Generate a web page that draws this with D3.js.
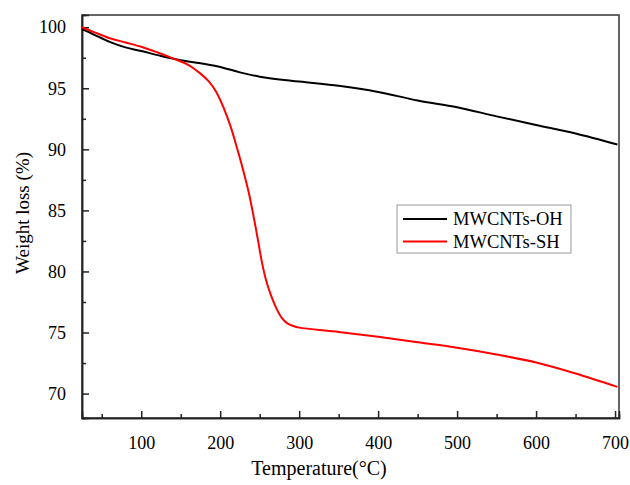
<!DOCTYPE html>
<html>
<head>
<meta charset="utf-8">
<script src="https://cdn.jsdelivr.net/npm/d3@7"></script>
<style>
body { margin: 0; background: #fff; }
text { font-family: "Liberation Serif", "Times New Roman", serif; fill: #000; }
</style>
</head>
<body>
<svg id="chart"></svg>
<script>
var seriesNames = ["MWCNTs-OH", "MWCNTs-SH"];
var seriesColors = ["#000000", "#ff0000"];

var ohTemp = [25, 40, 60, 80, 100, 125, 150, 175, 200, 225, 250, 300, 350, 400, 450, 500, 550, 600, 650, 703];
var ohWeight = [99.85, 99.4, 98.8, 98.35, 98.05, 97.65, 97.3, 97.05, 96.75, 96.3, 95.95, 95.55, 95.2, 94.7, 94.0, 93.45, 92.7, 92.0, 91.3, 90.4];

var shTemp = [25, 40, 60, 80, 100, 120, 140, 160, 175, 185, 195, 205, 213, 220, 227, 236, 242, 248, 253, 258, 264, 271, 278, 285, 292, 300, 350, 400, 450, 500, 550, 600, 650, 703];
var shWeight = [100.0, 99.6, 99.1, 98.75, 98.4, 97.95, 97.45, 96.9, 96.2, 95.6, 94.7, 93.3, 91.9, 90.4, 88.8, 86.5, 84.6, 82.5, 80.7, 79.3, 78.1, 77.0, 76.2, 75.75, 75.55, 75.4, 75.05, 74.65, 74.2, 73.75, 73.2, 72.55, 71.65, 70.55];

var xTicks = [100, 200, 300, 400, 500, 600, 700];
var xMinorTicks = [50, 150, 250, 350, 450, 550, 650];
var yTicks = [70, 75, 80, 85, 90, 95, 100];
var yMinorTicks = [72.5, 77.5, 82.5, 87.5, 92.5, 97.5];

var width = 630, height = 485;
var plotLeft = 82, plotRight = 619, plotTop = 15, plotBottom = 418;

var svg = d3.select("#chart")
	.attr("width", width)
	.attr("height", height);

var x = d3.scaleLinear()
	.domain([25, 705])
	.range([plotLeft, plotRight]);

var y = d3.scaleLinear()
	.domain([68, 101])
	.range([plotBottom, plotTop]);

// frame
svg.append("rect")
	.attr("x", plotLeft)
	.attr("y", plotTop)
	.attr("width", plotRight - plotLeft)
	.attr("height", plotBottom - plotTop)
	.attr("fill", "none")
	.attr("stroke", "#333")
	.attr("stroke-width", 1.5);

// axes, ticks pointing inward
svg.append("g")
	.attr("transform", "translate(0," + plotBottom + ")")
	.call(d3.axisBottom(x).tickValues(xTicks).tickSize(-7).tickPadding(18).tickFormat(d3.format("d")));

svg.append("g")
	.attr("transform", "translate(0," + plotBottom + ")")
	.call(d3.axisBottom(x).tickValues(xMinorTicks).tickSize(-4).tickFormat(""));

svg.append("g")
	.attr("transform", "translate(" + plotLeft + ",0)")
	.call(d3.axisLeft(y).tickValues(yTicks).tickSize(-7).tickPadding(16).tickFormat(d3.format("d")));

svg.append("g")
	.attr("transform", "translate(" + plotLeft + ",0)")
	.call(d3.axisLeft(y).tickValues(yMinorTicks).tickSize(-4).tickFormat(""));

svg.selectAll(".domain").attr("stroke", "#222").attr("stroke-width", 1.5);
svg.selectAll(".tick line").attr("stroke", "#222").attr("stroke-width", 1.5);
svg.selectAll(".tick text")
	.style("font-family", "'Liberation Serif', serif")
	.style("font-size", "18px")
	.attr("fill", "#000");

// lines
var series = [
	{ name: seriesNames[0], color: seriesColors[0], pts: d3.zip(ohTemp, ohWeight) },
	{ name: seriesNames[1], color: seriesColors[1], pts: d3.zip(shTemp, shWeight) }
];

var line = d3.line()
	.x(function(d){ return x(d[0]); })
	.y(function(d){ return y(d[1]); })
	.curve(d3.curveCatmullRom.alpha(0.5));

svg.selectAll("path.series")
	.data(series)
	.enter().append("path")
	.attr("class", "series")
	.attr("d", function(d){ return line(d.pts); })
	.attr("fill", "none")
	.attr("stroke", function(d){ return d.color; })
	.attr("stroke-width", 2);

// titles
svg.append("text")
	.attr("x", 319)
	.attr("y", 475)
	.attr("text-anchor", "middle")
	.style("font-size", "20px")
	.text("Temperature(°C)");

svg.append("text")
	.attr("transform", "translate(29,213) rotate(-90)")
	.attr("text-anchor", "middle")
	.style("font-size", "19px")
	.text("Weight loss (%)");

// legend
var legend = svg.append("g");

legend.append("rect")
	.attr("x", 397)
	.attr("y", 205)
	.attr("width", 174)
	.attr("height", 48)
	.attr("fill", "#fff")
	.attr("stroke", "#999")
	.attr("stroke-width", 1);

var item = legend.selectAll("g.item")
	.data(series)
	.enter().append("g")
	.attr("class", "item")
	.attr("transform", function(d, i){ return "translate(0," + (219 + i * 22.5) + ")"; });

item.append("line")
	.attr("x1", 403)
	.attr("x2", 447)
	.attr("stroke", function(d){ return d.color; })
	.attr("stroke-width", 2);

item.append("text")
	.attr("x", 453)
	.attr("dy", "0.35em")
	.style("font-size", "18.5px")
	.text(function(d){ return d.name; });
</script>
</body>
</html>
